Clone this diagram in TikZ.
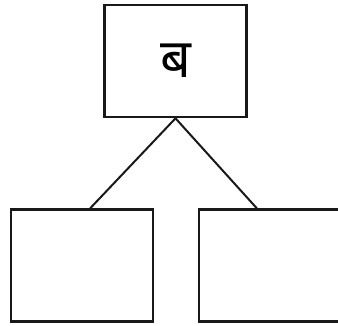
\documentclass[tikz,border=0pt]{standalone}
\usepackage{fontspec}
\newfontfamily\devafont[Script=Devanagari]{Noto Sans}
\tikzset{
  box/.style={draw=black!90, line width=2.6pt, minimum width=142pt, minimum height=112pt, inner sep=0pt, font=\devafont\fontsize{54}{54}\selectfont},
  link/.style={draw=black!90, line width=2pt}
}
\begin{document}
\begin{tikzpicture}[x=1pt,y=-1pt]
  \useasboundingbox (0,0) rectangle (338,325);
  \node[box] (top) at (175.5,61) {ब};
  \node[box] (left) at (82,265.5) {};
  \node[box] (right) at (270,265.5) {};
  % ends on the top edges of the lower boxes
  \coordinate (leftend) at (90,208.5);
  \coordinate (rightend) at (257,208.5);
  \draw[link] (top.south) -- (leftend);
  \draw[link] (top.south) -- (rightend);
\end{tikzpicture}
\end{document}
